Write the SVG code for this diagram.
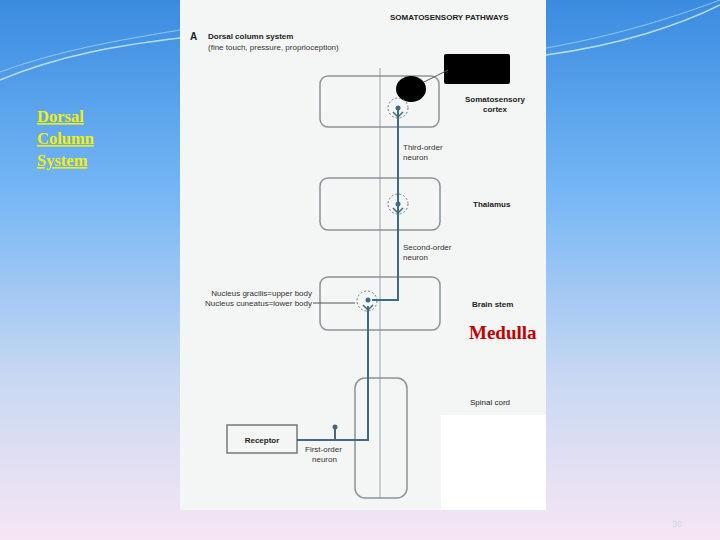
<svg xmlns="http://www.w3.org/2000/svg" width="720" height="540" viewBox="0 0 720 540">
<defs>
<linearGradient id="bg" x1="0" y1="0" x2="0" y2="1">
<stop offset="0" stop-color="#3a8be0"/>
<stop offset="0.35" stop-color="#74b6f5"/>
<stop offset="0.7" stop-color="#c8d8f2"/>
<stop offset="1" stop-color="#f6e6f4"/>
</linearGradient>
<style>
.box{fill:none;stroke:#8a9498;stroke-width:1.5}
.nrn{fill:none;stroke:#3f6a80;stroke-width:2}
.dc{fill:none;stroke:#6a7a80;stroke-width:1;stroke-dasharray:2 2}
.t{font-family:"Liberation Sans",Arial,sans-serif;font-size:8px;fill:#333}
.b{font-family:"Liberation Sans",Arial,sans-serif;font-size:8px;font-weight:bold;fill:#222}
.y{font-family:"Liberation Serif","Times New Roman",serif;font-size:16.5px;font-weight:bold;fill:#f0ef10;text-decoration:underline}
</style>
</defs>
<rect width="720" height="540" fill="url(#bg)"/>
<path d="M0 80 C60 55 120 45 180 38" fill="none" stroke="#d8f0ff" stroke-width="1.5" opacity="0.8"/>
<path d="M0 72 C60 50 120 40 180 30" fill="none" stroke="#a0d4f5" stroke-width="1" opacity="0.8"/>
<path d="M546 55 C620 45 680 25 720 5" fill="none" stroke="#d8f0ff" stroke-width="1.5" opacity="0.8"/>
<path d="M546 48 C620 35 680 15 720 0" fill="none" stroke="#a0d4f5" stroke-width="1" opacity="0.8"/>
<g id="title-left">
<text class="y" x="37" y="122">Dorsal</text>
<text class="y" x="37" y="144">Column</text>
<text class="y" x="37" y="166">System</text>
</g>
<rect x="180" y="0" width="366" height="510" fill="#f4f5f5"/>
<g id="header">
<text class="b" x="390" y="20">SOMATOSENSORY PATHWAYS</text>
<text class="b" x="190" y="40" style="font-size:10px">A</text>
<text class="b" x="208" y="39">Dorsal column system</text>
<text class="t" x="208" y="50">(fine touch, pressure, proprioception)</text>
</g>
<line x1="380" y1="68" x2="380" y2="498" stroke="#9aa4a8" stroke-width="1"/>
<g id="cortex">
<rect class="box" x="320" y="76" width="119" height="51" rx="8"/>
<rect x="444" y="54" width="66" height="30" rx="2" fill="#000"/>
<line x1="420" y1="84" x2="448" y2="70" stroke="#555" stroke-width="1"/>
<ellipse cx="411" cy="89" rx="15" ry="13" fill="#000"/>
<circle class="dc" cx="398" cy="108" r="10"/>
<text class="b" x="495" y="102" text-anchor="middle">Somatosensory</text>
<text class="b" x="495" y="112" text-anchor="middle">cortex</text>
</g>
<g id="thalamus">
<rect class="box" x="320" y="178" width="120" height="52" rx="8"/>
<circle class="dc" cx="398" cy="204" r="10"/>
<text class="b" x="473" y="207">Thalamus</text>
</g>
<g id="brainstem">
<rect class="box" x="320" y="277" width="120" height="53" rx="8"/>
<circle class="dc" cx="367" cy="301" r="10"/>
<text class="b" x="472" y="307">Brain stem</text>
<text x="469" y="339" style="font-family:'Liberation Serif','Times New Roman',serif;font-size:19px;font-weight:bold;fill:#c00000">Medulla</text>
<text class="t" x="312" y="296" text-anchor="end">Nucleus gracilis=upper body</text>
<text class="t" x="312" y="306" text-anchor="end">Nucleus cuneatus=lower body</text>
<line x1="313" y1="303" x2="355" y2="303" stroke="#555" stroke-width="1"/>
</g>
<g id="spinal">
<rect class="box" x="355" y="378" width="52" height="120" rx="10"/>
<text class="t" x="470" y="405" style="fill:#222">Spinal cord</text>
</g>
<g id="receptor">
<rect x="227" y="425" width="70" height="28" fill="none" stroke="#777" stroke-width="1.5"/>
<text class="b" x="262" y="443" text-anchor="middle">Receptor</text>
</g>
<g id="connectors">
<line class="nrn" x1="398" y1="110" x2="398" y2="202"/>
<polyline class="nrn" points="398,206 398,300 372,300"/>
<polyline class="nrn" points="368,306 368,440 297,440"/>
<line class="nrn" x1="335" y1="440" x2="335" y2="428"/>
<circle cx="335" cy="427" r="2.5" fill="#3f6a80"/>
<circle cx="398" cy="108" r="2.5" fill="#3f6a80"/>
<circle cx="398" cy="204" r="2.5" fill="#3f6a80"/>
<circle cx="368" cy="300" r="2.5" fill="#3f6a80"/>
<path d="M393 112 L398 117 L403 112 M393 208 L398 213 L403 208 M363 305 L368 310 L373 305" fill="none" stroke="#3f6a80" stroke-width="1.5"/>
</g>
<g id="labels">
<text class="t" x="403" y="150">Third-order</text>
<text class="t" x="403" y="160">neuron</text>
<text class="t" x="403" y="250">Second-order</text>
<text class="t" x="403" y="260">neuron</text>
<text class="t" x="305" y="452">First-order</text>
<text class="t" x="312" y="462">neuron</text>
</g>
<rect x="441" y="415" width="105" height="95" fill="#ffffff"/>
<text x="672" y="527" style="font-family:'Liberation Sans',Arial,sans-serif;font-size:9px;fill:#c8dde8">30</text>
</svg>
